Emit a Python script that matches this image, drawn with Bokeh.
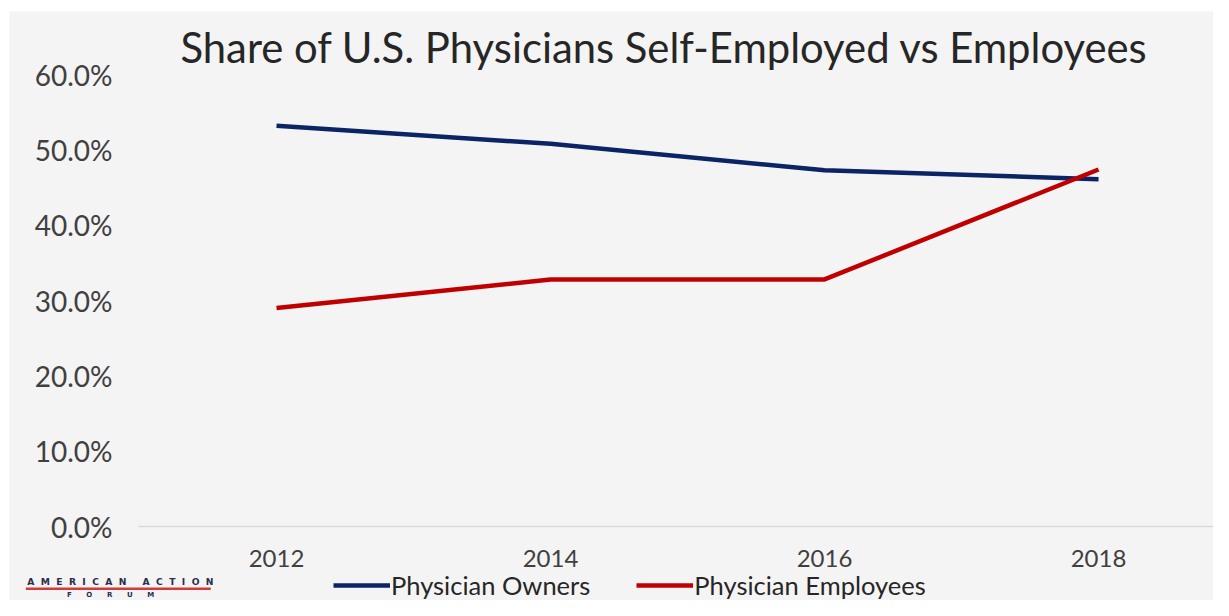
from bokeh.plotting import figure
from bokeh.models import (Range1d, FixedTicker, NumeralTickFormatter, Legend, LegendItem,
                          Label, BoxAnnotation, ColumnDataSource)
from bokeh.embed import file_html
from bokeh.resources import INLINE

years = [2012, 2014, 2016, 2018]
owners = [0.532, 0.508, 0.473, 0.461]
employees = [0.290, 0.328, 0.328, 0.474]
y_ticks = [0.0, 0.1, 0.2, 0.3, 0.4, 0.5, 0.6]
title_text = "Share of U.S. Physicians Self-Employed vs Employees"
series_names = ["Physician Owners", "Physician Employees"]
NB = "\u00a0"
logo_top = (NB * 2).join("AMERICAN") + NB * 5 + (NB * 2).join("ACTION")
logo_bottom = (NB * 6).join("FORUM")

BG = "#f4f4f4"
NAVY = "#0b2466"
RED = "#c00000"
FONT = "Lato"

p = figure(width=1204, height=589, margin=(11, 0, 0, 9),
           output_backend="svg", toolbar_location=None,
           x_range=Range1d(2010.051, 2018.839), y_range=Range1d(-0.0982, 0.6837),
           min_border_left=0, min_border_right=0, min_border_top=0, min_border_bottom=0)
p.background_fill_color = BG
p.border_fill_color = BG
p.outline_line_color = None
p.grid.visible = False
p.title.text = ""
p.title.visible = False

# chart title, drawn inside the frame
p.add_layout(Label(x=2011.299, y=0.637, text=title_text,
                   text_font=FONT, text_font_size="41.8px", text_color="#262626",
                   text_align="left", text_baseline="alphabetic"))

src = ColumnDataSource(dict(x=years, owners=owners, employees=employees))
r1 = p.line("x", "owners", source=src, line_color=NAVY, line_width=4.5)
r2 = p.line("x", "employees", source=src, line_color=RED, line_width=4.5)

p.xaxis.fixed_location = 0
p.xaxis.bounds = (2010.993, 2018.839)
p.xaxis.ticker = FixedTicker(ticks=years)
p.xaxis.axis_line_color = "#d9d9d9"
p.xaxis.axis_line_width = 1.5
p.xaxis.major_tick_line_color = None
p.xaxis.minor_tick_line_color = None
p.xaxis.major_label_text_font = FONT
p.xaxis.major_label_text_font_size = "24px"
p.xaxis.major_label_text_color = "#404040"
p.xaxis.major_label_standoff = 17

p.yaxis.fixed_location = 2010.993
p.yaxis.ticker = FixedTicker(ticks=y_ticks)
p.yaxis.formatter = NumeralTickFormatter(format="0.0%")
p.yaxis.axis_line_color = None
p.yaxis.major_tick_line_color = None
p.yaxis.minor_tick_line_color = None
p.yaxis.major_label_text_font = FONT
p.yaxis.major_label_text_font_size = "28px"
p.yaxis.major_label_text_color = "#404040"
p.yaxis.major_label_standoff = 20

legend = Legend(items=[LegendItem(label=series_names[0], renderers=[r1]),
                       LegendItem(label=series_names[1], renderers=[r2])],
                location=(324, 0), orientation="horizontal",
                background_fill_alpha=0, border_line_color=None,
                label_text_font=FONT, label_text_font_size="25.5px", label_text_color="#262626",
                glyph_width=57, glyph_height=20, label_standoff=1, spacing=46,
                padding=0, margin=0)
p.add_layout(legend, "center")

p.add_layout(Label(x=2010.18, y=-0.073, text=logo_top,
                   text_font="DejaVu Sans", text_font_style="bold", text_font_size="9.2px",
                   text_color="#2a2e4a", text_baseline="middle"))
p.add_layout(BoxAnnotation(left=2010.17, right=2011.52, top=-0.0810, bottom=-0.0843,
                           fill_color="#d33a3a", fill_alpha=1, line_color=None))
p.add_layout(Label(x=2010.47, y=-0.0856, text=logo_bottom,
                   text_font="DejaVu Sans", text_font_style="bold", text_font_size="7px",
                   text_color="#2a2e4a", text_baseline="top"))

open("out.html", "w").write(file_html(p, INLINE))
